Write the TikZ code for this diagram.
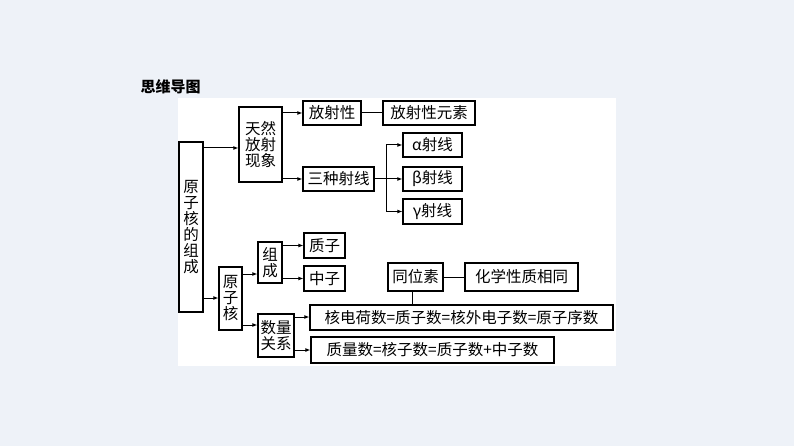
\documentclass[tikz,border=0pt]{standalone}
\usepackage{fontspec}
\setmainfont{Noto Sans CJK SC}
\usetikzlibrary{arrows.meta}
\definecolor{bgc}{HTML}{EEF2F8}
\tikzset{
 bx/.style={draw,line width=1.2pt,inner sep=0pt,font=\fontsize{15.5}{18}\selectfont,align=center},
 ar/.style={line width=1pt,-{Latex[length=5pt,width=4pt]}},
 ln/.style={line width=1pt}
}
\newcommand{\B}[6]{\node[bx,minimum width=#4-#2,minimum height=#5-#3,text width=#4-#2] (#1) at ({(#2+#4)/2},{(#3+#5)/2}) {#6};}
\begin{document}
\begin{tikzpicture}[x=1pt,y=-1pt]
\fill[bgc] (0,0) rectangle (794,446);
\useasboundingbox (0,0) rectangle (794,446);
\fill[white] (178,98) rectangle (616,366);
\node[font=\bfseries\fontsize{15}{18}\selectfont,anchor=west] (title) at (137,87) {思维导图};
\B{root}{179}{142}{203}{312}{原\\[-2pt]子\\[-2pt]核\\[-2pt]的\\[-2pt]组\\[-2pt]成}
\B{tr}{239}{107}{282}{182}{天然\\[-2pt]放射\\[-2pt]现象}
\B{fs}{303}{101}{361}{125}{放射性}
\B{fsy}{383}{101}{475}{125}{放射性元素}
\B{sz}{303}{167}{374}{191}{三种射线}
\B{al}{403}{133}{462}{157}{α射线}
\B{be}{403}{167}{462}{191}{β射线}
\B{ga}{403}{199}{462}{224}{γ射线}
\B{yzh}{219}{267}{242}{330}{原\\[-2pt]子\\[-2pt]核}
\B{zc}{258}{242}{282}{283}{组\\[-2pt]成}
\B{zz}{304}{233}{345}{258}{质子}
\B{nz}{304}{266}{345}{291}{中子}
\B{sl}{258}{314}{294}{357}{数量\\[-2pt]关系}
\B{eq1}{310}{305}{613}{330}{核电荷数=质子数=核外电子数=原子序数}
\B{eq2}{311}{337}{554}{363}{质量数=核子数=质子数+中子数}
\B{tws}{388}{263}{443}{291}{同位素}
\B{hx}{465}{263}{578}{291}{化学性质相同}
% connectors
\draw[ar] (root.east|-0,148) -- (tr.west|-0,148);
\draw[ar] (root.east|-0,298) -- (yzh.west|-0,298);
\draw[ar] (tr.east|-fs) -- (fs.west);
\draw[ar] (tr.east|-sz) -- (sz.west);
\draw[ln] (fs.east) -- (fsy.west);
\coordinate (bp) at (386,179);
\draw[ln] (sz.east) -- (bp);
\draw[ar] (bp|-al) -- (al.west);
\draw[ar] (bp) -- (be.west);
\draw[ar] (bp|-al) -- (bp|-ga) -- (ga.west);
\draw[ar] (yzh.east|-0,274) -- (zc.west|-0,274);
\draw[ar] (yzh.east|-0,325) -- (sl.west|-0,325);
\draw[ar] (zc.east|-zz) -- (zz.west);
\draw[ar] (zc.east|-nz) -- (nz.west);
\draw[ar] (sl.east|-0,317) -- (eq1.west|-0,317);
\draw[ar] (sl.east|-0,350) -- (eq2.west|-0,350);
\draw[ln] (tws.east) -- (hx.west);
\draw[ln] (412,291) -- (412,305);
\end{tikzpicture}
\end{document}
